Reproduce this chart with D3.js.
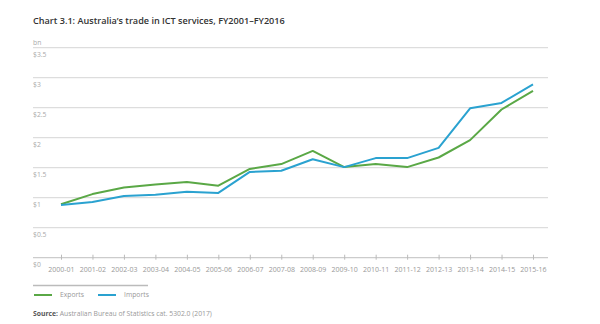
<!DOCTYPE html>
<html>
<head>
<meta charset="utf-8">
<script src="https://cdn.jsdelivr.net/npm/d3@7"></script>
<style>
body { margin: 0; background: #fff; }
text { font-family: "Open Sans", sans-serif; }
</style>
</head>
<body>
<div id="chart"></div>
<script>
var years = ["2000-01", "2001-02", "2002-03", "2003-04", "2004-05", "2005-06", "2006-07", "2007-08",
    "2008-09", "2009-10", "2010-11", "2011-12", "2012-13", "2013-14", "2014-15", "2015-16"];
var exports = [0.89, 1.06, 1.17, 1.22, 1.26, 1.20, 1.48, 1.56, 1.78, 1.51, 1.56, 1.51, 1.67, 1.96, 2.47, 2.78];
var imports = [0.88, 0.93, 1.03, 1.05, 1.10, 1.08, 1.43, 1.45, 1.64, 1.51, 1.66, 1.66, 1.83, 2.49, 2.58, 2.89];
var yTicks = [0, 0.5, 1, 1.5, 2, 2.5, 3, 3.5];

var width = 600, height = 324;
var gridLeft = 33, gridRight = 548;

var svg = d3.select("#chart").append("svg").attr("width", width).attr("height", height);

// Title
svg.append("text").attr("x", 33).attr("y", 24)
    .style("font-size", "9.1px").style("font-weight", 600).style("fill", "#333")
    .text("Chart 3.1: Australia\u2019s trade in ICT services, FY2001\u2013FY2016");

svg.append("text").attr("x", 33).attr("y", 45)
    .style("font-size", "6.8px").style("fill", "#aaa").text("bn");

var x = d3.scalePoint().domain(years).range([61, 533]);
var y = d3.scaleLinear().domain([0, 3.5]).range([257.7, 47.7]);

// gridlines and y labels
yTicks.forEach(function (t) {
    svg.append("line").attr("x1", gridLeft).attr("x2", gridRight)
        .attr("y1", y(t)).attr("y2", y(t))
        .style("stroke", t === 0 ? "#ccc" : "#ddd").style("stroke-width", 1.2);
    svg.append("text").attr("x", gridLeft).attr("y", y(t) + 9)
        .style("font-size", "6.8px").style("fill", "#aaa")
        .text("$" + t);
});

// x axis
var xAxis = svg.append("g").attr("transform", "translate(0," + y(0) + ")")
    .call(d3.axisBottom(x).tickSize(3).tickPadding(6));
xAxis.select(".domain").remove();
xAxis.selectAll(".tick line").attr("y1", -3).attr("y2", 2).style("stroke", "#bbb");
xAxis.selectAll(".tick text").style("font-size", "7px").style("fill", "#999")
    .style("font-family", "'Open Sans', sans-serif");

var line = d3.line().x(function (d, i) { return x(years[i]); }).y(function (d) { return y(d); });

var series = [
    {name: "Exports", values: exports, color: "#5aa846"},
    {name: "Imports", values: imports, color: "#2aa2d0"}
];

svg.selectAll(".series").data(series).enter().append("path").attr("class", "series")
    .attr("d", function (d) { return line(d.values); })
    .style("fill", "none").style("stroke", function (d) { return d.color; })
    .style("stroke-width", 2).style("stroke-linejoin", "round");

// legend
svg.append("line").attr("x1", 33).attr("x2", 148).attr("y1", 285.5).attr("y2", 285.5)
    .style("stroke", "#bbb").style("stroke-width", 1.5);

var legend = svg.selectAll(".legend").data(series).enter().append("g").attr("class", "legend")
    .attr("transform", function (d, i) { return "translate(" + (34 + i * 64) + ",295)"; });
legend.append("line").attr("x1", 0).attr("x2", 18).attr("y1", 0).attr("y2", 0)
    .style("stroke", function (d) { return d.color; }).style("stroke-width", 2);
legend.append("text").attr("x", 26).attr("y", 0).attr("dy", "0.35em")
    .style("font-size", "6.8px").style("fill", "#999").text(function (d) { return d.name; });

// source
var src = svg.append("text").attr("x", 33).attr("y", 316).style("font-size", "6.8px");
src.append("tspan").style("font-weight", 700).style("fill", "#555").text("Source: ");
src.append("tspan").style("fill", "#999").text("Australian Bureau of Statistics cat. 5302.0 (2017)");
</script>
</body>
</html>
